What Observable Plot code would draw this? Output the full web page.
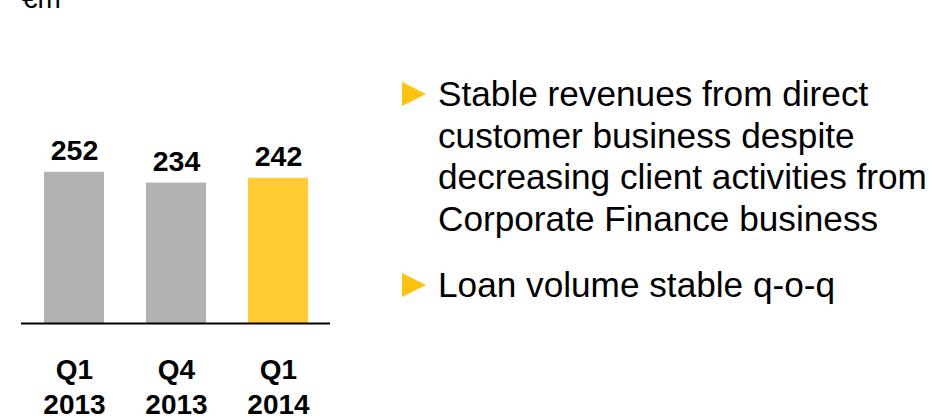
<!DOCTYPE html>
<html>
<head>
<meta charset="utf-8">
<script src="https://cdn.jsdelivr.net/npm/d3@7"></script>
<script src="https://cdn.jsdelivr.net/npm/@observablehq/plot@0.6"></script>
<style>
  html, body { margin: 0; padding: 0; background: #fff; }
  #wrap { position: relative; width: 946px; height: 418px; overflow: hidden; font-family: "Liberation Sans", Arial, sans-serif; }
  #wrap svg { position: absolute; left: 0; top: 0; }
  .unit { position: absolute; left: 22px; top: -15px; font-size: 28px; line-height: 28px; color: #000; }
  .bullet { position: absolute; left: 438px; font-size: 35.2px; line-height: 41.5px; color: #000; white-space: nowrap; }
  .tri { position: absolute; left: 402px; width: 24px; height: 24px; background: #ffc20e; clip-path: polygon(0 0, 100% 50%, 0 100%); }
</style>
</head>
<body>
<div id="wrap"></div>
<script>
const unitLabel = "€m";
const quarters = ["Q1", "Q4", "Q1"];
const years = ["2013", "2013", "2014"];
const values = [252, 234, 242];
const bullets = [
  ["Stable revenues from direct", "customer business despite", "decreasing client activities from", "Corporate Finance business"],
  ["Loan volume stable q-o-q"]
];

const categories = quarters.map((q, i) => q + " " + years[i]);
const data = categories.map((c, i) => ({cat: c, value: values[i], highlight: i === categories.length - 1}));
const GRAY = "#b2b2b2", YELLOW = "#ffcc33";

const chart = Plot.plot({
  width: 946,
  height: 418,
  marginLeft: 21,
  marginRight: 616,
  marginTop: 83,
  marginBottom: 95,
  style: {fontFamily: "'Liberation Sans', Arial, sans-serif", background: "transparent"},
  x: {domain: categories, paddingInner: 0.415, paddingOuter: 0.215, axis: null},
  y: {domain: [0, 400], axis: null},
  marks: [
    Plot.barY(data, {x: "cat", y: "value", fill: d => d.highlight ? YELLOW : GRAY}),
    Plot.ruleY([0], {stroke: "#000", strokeWidth: 2}),
    Plot.text(data, {x: "cat", y: "value", text: d => String(d.value), dy: -12, lineAnchor: "bottom",
      fontSize: 28.5, fontWeight: "bold", fill: "#000"}),
    Plot.axisX({domain: categories, label: null, tickSize: 0, tickPadding: 31, fontSize: 28, fontWeight: "bold",
      lineHeight: 1.25, tickFormat: d => d.replace(" ", "\n"), color: "#000"})
  ]
});

const wrap = document.getElementById("wrap");
wrap.appendChild(chart);

const u = document.createElement("div");
u.className = "unit";
u.textContent = unitLabel;
wrap.appendChild(u);

const blockTops = [73, 264];
const triTops = [82, 273];
bullets.forEach((lines, i) => {
  const t = document.createElement("div");
  t.className = "tri";
  t.style.top = triTops[i] + "px";
  wrap.appendChild(t);
  const b = document.createElement("div");
  b.className = "bullet";
  b.style.top = blockTops[i] + "px";
  b.innerHTML = lines.map(l => l.replace(/&/g, "&amp;").replace(/</g, "&lt;")).join("<br>");
  wrap.appendChild(b);
});
</script>
</body>
</html>
